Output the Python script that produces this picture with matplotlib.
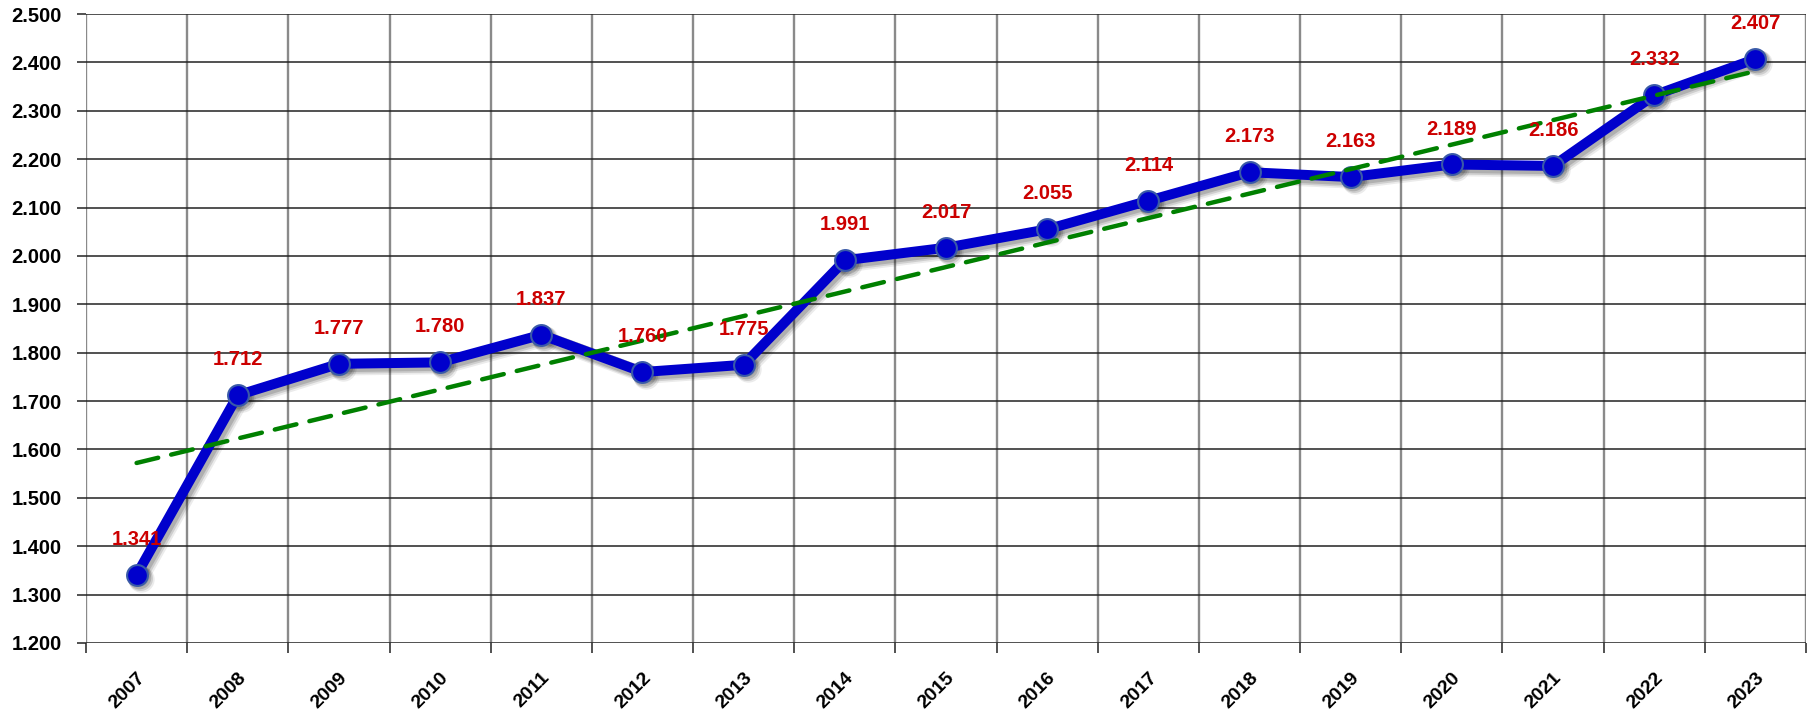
import matplotlib
matplotlib.use("Agg")
import matplotlib.pyplot as plt
import matplotlib.transforms as mtransforms
import numpy as np

years = ["2007", "2008", "2009", "2010", "2011", "2012", "2013", "2014", "2015",
         "2016", "2017", "2018", "2019", "2020", "2021", "2022", "2023"]
values = [1.341, 1.712, 1.777, 1.780, 1.837, 1.760, 1.775, 1.991, 2.017,
          2.055, 2.114, 2.173, 2.163, 2.189, 2.186, 2.332, 2.407]
y_ticks = [1.2, 1.3, 1.4, 1.5, 1.6, 1.7, 1.8, 1.9, 2.0, 2.1, 2.2, 2.3, 2.4, 2.5]

plt.rcParams['font.family'] = ['Liberation Sans', 'DejaVu Sans']

fig = plt.figure(figsize=(18.10, 7.14), dpi=100)
ax = fig.add_axes([86/1810, 1 - 643/714, (1806 - 86)/1810, (643 - 14)/714])

n = len(years)
x = np.arange(n)
ax.set_xlim(-0.5, n - 0.5)
ax.set_ylim(1.2, 2.5)

# grid
for b in np.arange(-0.5, n, 1.0):
    ax.axvline(b, color='#8a8a8a', lw=1.7, zorder=1)
for t in y_ticks:
    ax.axhline(t, color='#222222', lw=1.1, zorder=1)

# soft shadow
for off, a in [(4, 0.08), (3, 0.12), (2, 0.15)]:
    tr = mtransforms.offset_copy(ax.transData, fig=fig, x=off, y=-off, units='dots')
    ax.plot(x, values, color='black', alpha=a, lw=7.2 + off, solid_capstyle='round',
            solid_joinstyle='round', marker='o', markersize=15 + off,
            markeredgewidth=0, transform=tr, zorder=2)

# main line
ax.plot(x, values, color='#0000CC', lw=7.2, solid_capstyle='round',
        solid_joinstyle='round', zorder=3,
        marker='o', markersize=15, markerfacecolor='#0000CC',
        markeredgecolor='#3a5aa8', markeredgewidth=1.5)

# trend line
coef = np.polyfit(x, values, 1)
ax.plot(x[[0, -1]], np.polyval(coef, x[[0, -1]]), color='#008000', lw=3.2,
        dashes=(5, 3), dash_capstyle='round', zorder=4)

# value labels
for xi, v in zip(x, values):
    ax.annotate(f"{v:.3f}", (xi, v), xytext=(0, 25.5), textcoords='offset points',
                ha='center', va='center', color='#CC0000', fontsize=14.5,
                fontweight='bold', zorder=5)

# ticks
ax.set_yticks(y_ticks)
ax.set_yticklabels([f"{t:.3f}" for t in y_ticks], fontsize=14.5, fontweight='bold')
ax.tick_params(axis='y', length=6.5, width=1.1, color='#222222', pad=11)

ax.set_xticks(np.arange(-0.5, n, 1.0))
ax.set_xticklabels([])
ax.tick_params(axis='x', which='major', length=7.5, width=1.1, color='#222222')
ax.set_xticks(x, minor=True)
ax.set_xticklabels(years, minor=True, rotation=45, ha='right', va='top',
                   rotation_mode='anchor', fontsize=14, fontweight='bold')
ax.tick_params(axis='x', which='minor', length=0, pad=19)

for s in ax.spines.values():
    s.set_visible(False)

fig.savefig("out.png", dpi=100)
